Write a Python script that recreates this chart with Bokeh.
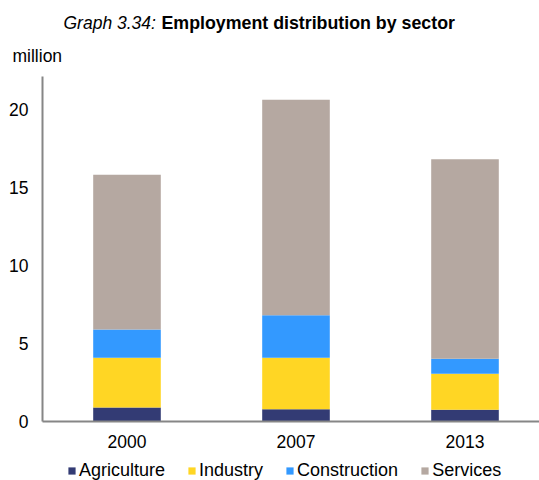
from bokeh.plotting import figure
from bokeh.models import Range1d, FixedTicker, Legend, LegendItem, Label, ColumnDataSource
from bokeh.embed import file_html
from bokeh.resources import INLINE

years = ["2000", "2007", "2013"]
sectors = ["Agriculture", "Industry", "Construction", "Services"]
agriculture = [0.90, 0.79, 0.75]
industry = [3.18, 3.29, 2.31]
construction = [1.82, 2.73, 0.96]
services = [9.90, 13.80, 12.78]
colors = ["#333B74", "#FFD624", "#3399FF", "#B5A8A1"]
y_ticks = [0, 5, 10, 15, 20]

FONT = "Liberation Sans"

W, H = 539, 480
# plot-area geometry in pixels (left, top, bottom of the axes box)
AX_L, AX_T, AX_B = 42, 76, 421
Y_TOP = 22.1
ppu_y = (AX_B - AX_T) / Y_TOP
CAT_W = 169.0
x0_px = AX_L + CAT_W / 2

xpos = list(range(len(years)))
src = ColumnDataSource(dict(x=xpos, Agriculture=agriculture, Industry=industry,
                            Construction=construction, Services=services))

x_start = -x0_px / CAT_W
x_end = (W - x0_px) / CAT_W
y_start = -(H - AX_B) / ppu_y
y_end = AX_B / ppu_y

p = figure(width=W, height=H, output_backend="svg", toolbar_location=None,
           x_range=Range1d(x_start, x_end), y_range=Range1d(y_start, y_end),
           min_border=0)
p.outline_line_color = None
p.xgrid.visible = False
p.ygrid.visible = False

rs = p.vbar_stack(sectors, x="x", width=0.4, color=colors, source=src, line_color=None)

ax_left_data = -0.5
for ax in (p.xaxis[0], p.yaxis[0]):
    ax.axis_line_color = "#868686"
    ax.axis_line_width = 2
    ax.major_tick_line_color = None
    ax.minor_tick_line_color = None
    ax.major_tick_out = 0
    ax.major_tick_in = 0
    ax.minor_tick_out = 0
    ax.major_label_text_font = FONT
    ax.major_label_text_font_size = "17.5px"
    ax.major_label_text_color = "#000000"

p.yaxis.ticker = FixedTicker(ticks=y_ticks)
p.yaxis.fixed_location = ax_left_data
p.yaxis.bounds = (0, Y_TOP)
p.yaxis.major_label_standoff = 14
p.xaxis.ticker = FixedTicker(ticks=xpos)
p.xaxis.major_label_overrides = {i: y for i, y in zip(xpos, years)}
p.xaxis.fixed_location = 0
p.xaxis.bounds = (ax_left_data, x_end)
p.xaxis.major_label_standoff = 13

legend = Legend(items=[LegendItem(label=s, renderers=[r]) for s, r in zip(sectors, rs)],
                location=(67, -1), orientation="horizontal",
                glyph_width=9, glyph_height=9, label_standoff=3, spacing=22,
                padding=0, margin=0, border_line_color=None, background_fill_alpha=0,
                label_text_font=FONT, label_text_font_size="18px", label_text_color="#000000")
p.add_layout(legend, "center")

p.add_layout(Label(x=63, y=H - 22, x_units="screen", y_units="screen", text="Graph 3.34:",
                   text_font=FONT, text_font_size="17.5px", text_font_style="italic",
                   text_baseline="middle", text_align="left", text_color="#000000"))
p.add_layout(Label(x=161, y=H - 22, x_units="screen", y_units="screen",
                   text="Employment distribution by sector",
                   text_font=FONT, text_font_size="17.8px", text_font_style="bold",
                   text_baseline="middle", text_align="left", text_color="#000000"))
p.add_layout(Label(x=12, y=H - 55, x_units="screen", y_units="screen", text="million",
                   text_font=FONT, text_font_size="17.5px",
                   text_baseline="middle", text_align="left", text_color="#000000"))

open("out.html", "w").write(file_html(p, INLINE))
